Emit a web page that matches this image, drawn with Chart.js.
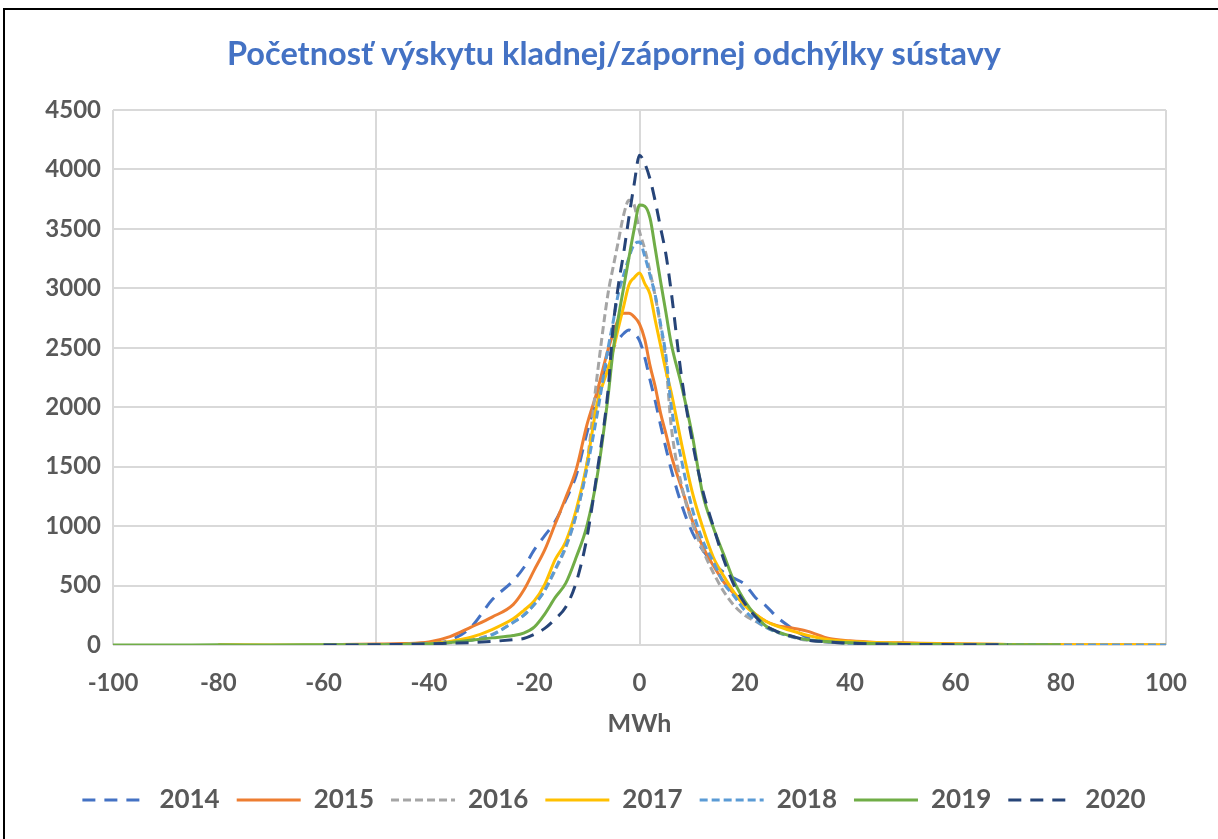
<!DOCTYPE html>
<html><head><meta charset="utf-8">
<script src="https://cdn.jsdelivr.net/npm/chart.js@4.4.1/dist/chart.umd.min.js"></script>
<style>
html,body{margin:0;padding:0;background:#fff;}
#wrap{position:relative;width:1218px;height:839px;overflow:hidden;background:#fff;}
#frame{position:absolute;left:3px;top:8px;width:1300px;height:900px;border-left:2px solid #000;border-top:2px solid #000;pointer-events:none;}
canvas{position:absolute;left:0;top:0;}
</style></head><body>
<div id="wrap"><canvas id="c" width="1218" height="839"></canvas><div id="frame"></div></div>
<script>
const chartTitle = 'Početnosť výskytu kladnej/zápornej odchýlky sústavy';
const xTitle = 'MWh';
const years = ['2014','2015','2016','2017','2018','2019','2020'];
const mwh = [-100,-90,-80,-70,-60, -50,-45,-40,-36,-32, -28,-24,-22,-20,-18, -16,-14,-12,-10,-8,
  -6,-5,-4,-3,-2, -1,0,1,2,3, 4,5,6,8,10, 12,14,16,18,20, 22,24,26,28,30, 32,36,40,45,50, 60,70,80,90,100];
const y2014 = [null,null,null,null,0, 3,8,15,40,150, 380,540,650,800,920, 1040,1220,1430,1780,2100,
  2400,2500,2570,2620,2650, 2620,2560,2420,2230,2050, 1850,1660,1480,1180,950, 800,690,610,560,510,
  400,330,240,170,110, 60,35,20,10,5, 2,0,null,null,null];
const y2015 = [null,null,null,null,2, 8,12,25,70,150, 235,340,460,630,800, 1020,1240,1480,1850,2140,
  2480,2620,2740,2790,2790, 2760,2700,2570,2350,2170, 1950,1780,1600,1320,1050, 830,670,530,430,340,
  260,200,165,150,135, 115,55,35,22,18, 10,5,3,2,1];
const y2016 = [null,null,null,null,0, 2,4,8,18,40, 90,190,250,340,460, 630,820,1100,1520,2280,
  2950,3180,3400,3620,3740, 3700,3480,3330,3140,2930, 2680,2380,1850,1340,1030, 800,610,450,330,250,
  200,150,110,80,55, 40,22,12,7,4, 2,1,null,null,null];
const y2017 = [null,null,2,0,1, 3,5,12,30,65, 130,220,290,370,510, 720,870,1140,1520,2040,
  2320,2480,2670,2850,3030, 3090,3130,3040,2950,2730, 2520,2310,2130,1690,1290, 990,740,580,440,330,
  260,200,160,130,105, 80,45,30,20,15, 8,5,3,2,1];
const y2018 = [null,null,null,null,0, 2,5,10,20,40, 85,190,250,340,460, 640,830,1100,1480,1950,
  2490,2720,2960,3115,3260, 3370,3390,3270,3110,2940, 2700,2440,2020,1550,1150, 880,700,520,410,290,
  210,150,110,80,60, 45,25,15,8,5, 3,2,1,1,0];
const y2019 = [0,0,2,0,2, 3,5,10,20,40, 60,80,100,150,260, 400,520,740,1000,1430,
  2080,2480,2760,3010,3260, 3500,3700,3690,3590,3330, 3060,2800,2540,2180,1770, 1270,990,760,530,370,
  250,160,115,85,60, 45,28,18,10,6, 3,2,2,null,null];
const y2020 = [null,null,null,null,0, 2,5,10,15,20, 30,45,55,90,140, 220,320,530,900,1470,
  2130,2680,3030,3300,3600, 3880,4120,4050,3920,3730, 3510,3290,2980,2250,1720, 1300,1000,720,500,350,
  240,160,115,85,60, 40,25,15,8,5, 3,2,null,null,null];
const seriesValues = [y2014,y2015,y2016,y2017,y2018,y2019,y2020];
const colors = ['#4472C4','#ED7D31','#A5A5A5','#FFC000','#5B9BD5','#70AD47','#264478'];
const dashes = [[13,9],[],[8,4],[],[8,4],[],[13,9]];
const yTicks = {min:0, max:4500, step:500};
const xTicks = {min:-100, max:100, step:10, labelEvery:20, gridEvery:50};

const tickFont = {family:'Lato', weight:'bold', size:24};
const grey = '#595959';
const gridCol = '#D9D9D9';

const datasets = years.map((yr,i)=>({
  label: yr,
  data: mwh.map((x,j)=>({x:x, y:seriesValues[i][j]})),
  borderColor: colors[i],
  backgroundColor: colors[i],
  borderWidth: 3,
  borderDash: dashes[i],
  pointRadius: 0,
  cubicInterpolationMode: 'monotone',
  fill: false,
  order: years.length - i
}));

new Chart(document.getElementById('c'), {
  type: 'line',
  data: {datasets},
  options: {
    responsive: false,
    animation: false,
    devicePixelRatio: 1,
    layout: {padding: {left:10, right:0, top:0, bottom:16}},
    plugins: {
      tooltip: {enabled:false},
      title: {display:true, text: chartTitle, color:'#4472C4',
        font:{family:'Lato', weight:'bold', size:32.5, lineHeight:1.2},
        padding:{top:35.5, bottom:35.5}},
      legend: {position:'bottom',
        labels: {usePointStyle:true, pointStyle:'line', pointStyleWidth:64,
          font:{family:'Lato', weight:'bold', size:26}, color:grey, padding:17,
          generateLabels:(chart)=>{
            const items = Chart.defaults.plugins.legend.labels.generateLabels(chart);
            items.forEach(it=>{
              const ds = chart.data.datasets[it.datasetIndex];
              it.lineDash = ds.borderDash;
              it.strokeStyle = ds.borderColor;
              it.lineWidth = ds.borderWidth;
              it.pointStyle = 'line';
            });
            return items;
          },
          sort:(a,b)=>a.datasetIndex-b.datasetIndex}}
    },
    scales: {
      x: {type:'linear', min:xTicks.min, max:xTicks.max,
        ticks:{stepSize:xTicks.step, autoSkip:false, maxRotation:0, font:tickFont, color:grey, padding:24,
          callback:(v)=> (v % xTicks.labelEvery === 0) ? String(v) : ''},
        grid:{drawTicks:false, lineWidth:2,
          color:(ctx)=> (ctx.tick && ctx.tick.value % xTicks.gridEvery === 0) ? gridCol : 'rgba(0,0,0,0)'},
        border:{display:false},
        title:{display:true, text:xTitle, color:grey, font:{family:'Lato', weight:'bold', size:25}, padding:{top:31,bottom:31}},
        afterFit:(s)=>{s.height = 125;}
      },
      y: {min:yTicks.min, max:yTicks.max,
        ticks:{stepSize:yTicks.step, font:tickFont, color:grey, padding:12, callback:(v)=>String(v)},
        grid:{drawTicks:false, lineWidth:2, color:gridCol},
        border:{display:false},
        afterFit:(s)=>{s.width = 103;}
      },
      yR: {position:'right', min:0, max:1, display:true,
        ticks:{display:false}, grid:{display:false}, border:{display:false},
        afterFit:(s)=>{s.width = 52;}
      }
    }
  }
});
</script>
</body></html>
